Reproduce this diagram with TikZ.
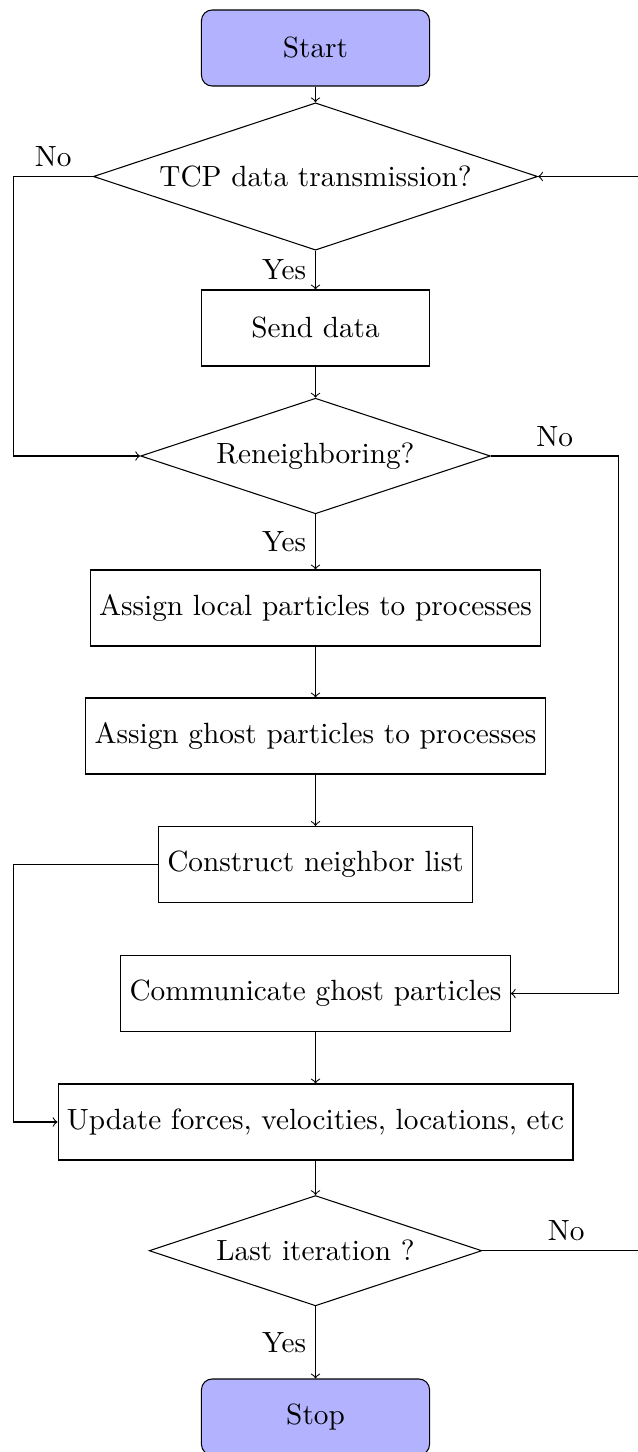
\documentclass[tikz,border=0pt]{standalone}
\usetikzlibrary{shapes.geometric,arrows}

\tikzset{
  every node/.style={font=\fontsize{10.95}{13.6}\selectfont},
  terminal/.style={rectangle, rounded corners, draw=black, fill=blue!30,
    minimum width=3cm, minimum height=1cm, text centered},
  process/.style={rectangle, draw=black,
    minimum width=3cm, minimum height=1cm, text centered},
  decision/.style={diamond, aspect=3, draw=black, inner sep=0pt, text centered},
  flow/.style={draw, ->}
}

\begin{document}
\begin{tikzpicture}[x=0.0131579cm, y=-0.0131579cm]
  \clip (0,0) rectangle (638,1452);

  % main column
  \node[terminal] (start) at (315.5,48) {Start};
  \node[decision, minimum width=5.842cm, minimum height=1.938cm] (tcp) at (315.5,176.5) {TCP data transmission?};
  \node[process] (send) at (315.5,328) {Send data};
  \node[decision, minimum width=4.6cm, minimum height=1.52cm] (ren) at (315.5,456) {Reneighboring?};
  \node[process] (local) at (315.5,608) {Assign local particles to processes};
  \node[process] (ghost) at (315.5,736) {Assign ghost particles to processes};
  \node[process] (cons) at (315.5,864.5) {Construct neighbor list};
  \node[process] (comm) at (315.5,993.5) {Communicate ghost particles};
  \node[process] (upd) at (315.5,1122) {Update forces, velocities, locations, etc};
  \node[decision, minimum width=4.376cm, minimum height=1.451cm] (last) at (315.5,1250.7) {Last iteration ?};
  \node[terminal] (stop) at (315.5,1417) {Stop};

  % side rails
  \coordinate (lx) at (13.3,0);
  \coordinate (rx) at (618.3,0);
  \coordinate (fx) at (650,0);

  % connectors
  \draw[flow] (start) -- (tcp);
  \draw[flow] (tcp) -- node[left] {Yes} (send);
  \draw[flow] (tcp.west) -- node[above] {No} (tcp.west -| lx) |- (ren.west);
  \draw[flow] (send) -- (ren);
  \draw[flow] (ren) -- node[left] {Yes} (local);
  \draw[flow] (ren.east) -- node[above] {No} (ren.east -| rx) |- (comm.east);
  \draw[flow] (local) -- (ghost);
  \draw[flow] (ghost) -- (cons);
  \draw[flow] (cons.west) -- (cons.west -| lx) |- (upd.west);
  \draw[flow] (comm) -- (upd);
  \draw[flow] (upd) -- (last);
  \draw[flow] (last) -- node[left] {Yes} (stop);
  \draw[flow] (last.east) -- node[above] {No} (last.east -| fx) |- (tcp.east);
\end{tikzpicture}
\end{document}
